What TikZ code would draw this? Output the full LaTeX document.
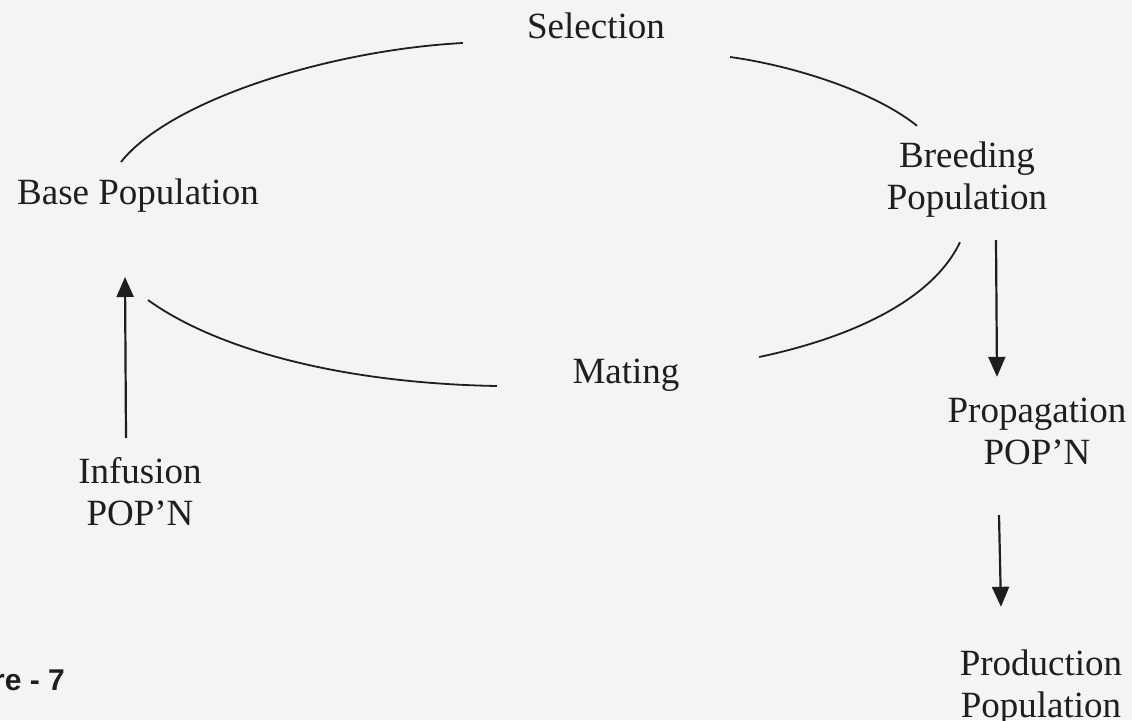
\documentclass[tikz,border=0pt]{standalone}
\usepackage{fontspec}
\setmainfont{Liberation Serif}
\newfontfamily\figfont{Liberation Sans}
\usetikzlibrary{arrows.meta,calc}
\definecolor{bg}{RGB}{244,244,246}
\definecolor{ink}{RGB}{30,30,30}
\newcommand{\twolines}[2]{\begin{tabular}[t]{@{}c@{}}#1\\#2\end{tabular}}
\begin{document}
\begin{tikzpicture}[x=1pt,y=-1pt,
  lbl/.style={font=\fontsize{37}{42}\selectfont, text=ink, inner sep=0pt, anchor=base},
  arcline/.style={draw=ink, line width=1.8pt},
  arr/.style={draw=ink, line width=2.2pt, -{Triangle[length=20pt,width=17pt]}}]
\fill[bg] (0,0) rectangle (1132,720);
\useasboundingbox (0,0) rectangle (1132,720);
% labels
\node[lbl] (sel) at (596,38) {Selection};
\node[lbl] (bred) at (967,167) {\twolines{Breeding}{Population}};
\node[lbl] (basepop) at (138,204) {Base Population};
\node[lbl] (mat) at (626,383) {Mating};
\node[lbl] (prop) at (1037,422) {\twolines{Propagation}{POP’N}};
\node[lbl] (inf) at (140,483) {\twolines{Infusion}{POP’N}};
\node[lbl] (prod) at (1041,675) {\twolines{Production}{Population}};
\node[font=\figfont\bfseries\fontsize{30}{34}\selectfont, text=ink, inner sep=0pt, anchor=base east] (fig) at (65,690) {re - 7};
% cycle arcs
\draw[arcline] ($(sel.base west)+(-64,5)$) .. controls (330,50) and (170,100) .. ($(basepop.base)+(-17,-42)$);
\draw[arcline] ($(sel.base east)+(65,19)$) .. controls (795,66) and (875,92) .. ($(bred.north)+(-50,-11.6)$);
\draw[arcline] ($(bred.south)+(-7,20.4)$) .. controls (930,305) and (840,340) .. ($(mat.base east)+(79.5,-26)$);
\draw[arcline] ($(basepop.base)+(10,96)$) .. controls (210,345) and (330,383) .. ($(mat.base west)+(-75.5,3)$);
% straight arrows
\draw[arr] ($(inf.north)+(-14,-15.6)$) -- ($(basepop.base)+(-13,73)$);
\draw[arr] ($(bred.south)+(29,18.4)$) -- ($(prop.north)+(-40,-15.6)$);
\draw[arr] ($(prop.south)+(-38,38.4)$) -- ($(prod.north)+(-40,-38.6)$);
\end{tikzpicture}
\end{document}
